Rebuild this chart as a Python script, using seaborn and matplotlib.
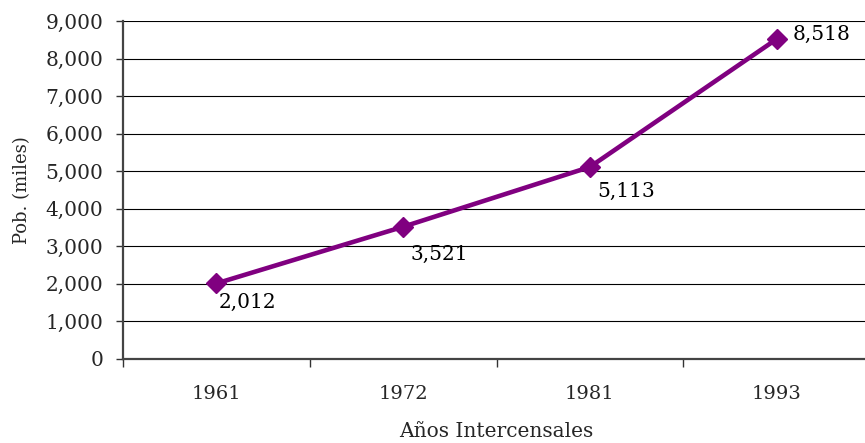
import matplotlib
matplotlib.use("Agg")
import matplotlib.pyplot as plt
import seaborn as sns
import pandas as pd
from matplotlib.ticker import FuncFormatter, FixedLocator

# datos
anios = ["1961", "1972", "1981", "1993"]
poblacion = [2012, 3521, 5113, 8518]

# desplazamiento de las etiquetas de valor (puntos)
label_offsets = [(1.5, -14), (5, -20), (5, -17.5), (11.5, 3.5)]

sns.set_theme(style="white")
plt.rcParams["font.family"] = ["DejaVu Serif"]

df = pd.DataFrame({"anio": anios, "pob": poblacion})

fig = plt.figure(figsize=(8.65, 4.43), dpi=100)
ax = fig.add_axes([123 / 865, 1 - 359 / 443, 747 / 865, 338 / 443])

sns.lineplot(data=df, x="anio", y="pob", ax=ax, color="#800080", lw=3.3,
             marker="D", markersize=10.5, markeredgecolor="#800080",
             markeredgewidth=1, zorder=3)

for i, (v, off) in enumerate(zip(poblacion, label_offsets)):
    ax.annotate(f"{v:,}", (i, v), xytext=off, textcoords="offset points",
                ha="left", va="center", fontsize=14.5, color="black")

ax.set_xlim(-0.5, 3.5)
ax.set_ylim(0, 9000)
ax.set_yticks(range(0, 9001, 1000))
ax.yaxis.set_major_formatter(FuncFormatter(lambda v, p: f"{int(v):,}"))
ax.grid(axis="y", color="black", lw=0.8)
ax.set_axisbelow(True)

ax.xaxis.set_minor_locator(FixedLocator([-0.5, 0.5, 1.5, 2.5, 3.5]))
ax.tick_params(axis="x", which="major", length=0, pad=19, labelsize=14)
ax.tick_params(axis="x", which="minor", length=5.5, width=1, color="#333333",
               direction="out", bottom=True)
ax.tick_params(axis="y", length=5, width=1, color="#333333", direction="out",
               left=True, pad=9, labelsize=14.5)

for s in ["top", "right"]:
    ax.spines[s].set_visible(False)
for s in ["left", "bottom"]:
    ax.spines[s].set_color("#444444")
    ax.spines[s].set_linewidth(1.6)

ax.set_xlabel("Años Intercensales", fontsize=14.5)
ax.set_ylabel("Pob. (miles)", fontsize=13)
ax.xaxis.set_label_coords(0.5, -0.187)
ax.yaxis.set_label_coords(-0.123, 0.5)

fig.savefig("out.png", dpi=100)
